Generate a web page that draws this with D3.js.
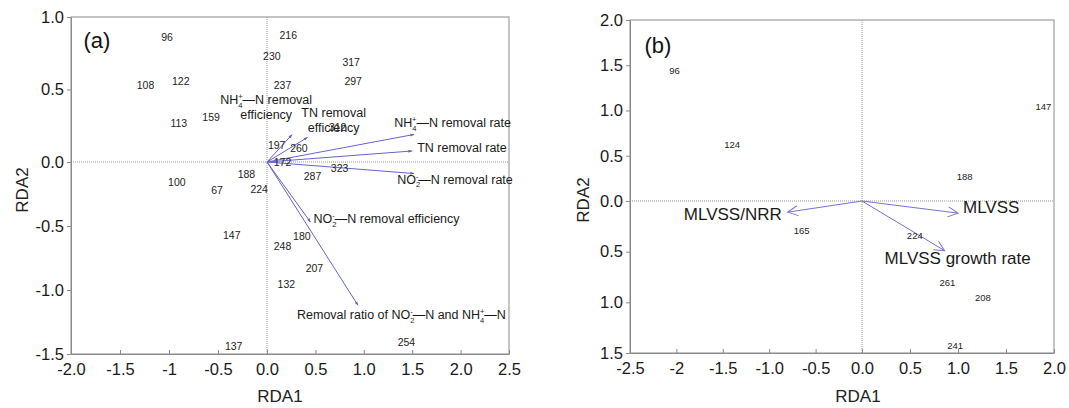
<!DOCTYPE html>
<html>
<head>
<meta charset="utf-8">
<script src="https://cdn.jsdelivr.net/npm/d3@7"></script>
<style>
  body { margin: 0; background: #fff; }
  svg { display: block; font-family: "Liberation Sans", Arial, sans-serif; }
  .axis path, .axis line { stroke: #8a8a8a; }
  .axis text { fill: #1a1a1a; font-size: 16.5px; font-family: "Liberation Sans", Arial, sans-serif; }
  .zero { stroke: #9a9a9a; stroke-dasharray: 1,1; }
  .frame { fill: none; stroke: #8a8a8a; }
  .sample { fill: #222; text-anchor: middle; dominant-baseline: central; }
</style>
</head>
<body>
<div id="chart"></div>
<script>
// ---- panel (a) ----
const xTicksA = [-2, -1.5, -1, -0.5, 0, 0.5, 1, 1.5, 2, 2.5];
const xTickLabelsA = ["-2.0", "-1.5", "-1", "-0.5", "0.0", "0.5", "1.0", "1.5", "2.0", "2.5"];
const yTicksA = [1, 0.5, 0, -0.5, -1, -1.5];
const yTickLabelsA = ["1.0", "0.5", "0.0", "-0.5", "-1.0", "-1.5"];

const sampleIdsA = ["96", "122", "108", "113", "159", "100", "67", "188", "224", "216", "230", "317", "297", "237",
  "312", "197", "260", "172", "323", "287", "147", "180", "248", "207", "132", "137", "254"];
const sampleRDA1A = [-1.02, -0.88, -1.24, -0.90, -0.57, -0.92, -0.51, -0.21, -0.08, 0.22, 0.05, 0.87, 0.89, 0.16,
  0.73, 0.10, 0.33, 0.16, 0.75, 0.47, -0.36, 0.36, 0.16, 0.49, 0.20, -0.34, 1.44];
const sampleRDA2A = [0.86, 0.56, 0.53, 0.27, 0.31, -0.16, -0.22, -0.09, -0.21, 0.875, 0.73, 0.69, 0.56, 0.53,
  0.24, 0.12, 0.10, 0.0, -0.05, -0.11, -0.57, -0.58, -0.66, -0.83, -0.95, -1.44, -1.41];

const arrowNamesA = [
  [["NH", ["sub", "4"], ["sup", "+"], "—N removal"], ["efficiency"]],
  [["TN removal"], ["efficiency"]],
  [["NH", ["sub", "4"], ["sup", "+"], "—N removal rate"]],
  [["TN removal rate"]],
  [["NO", ["sub", "2"], ["sup", "-"], "—N removal rate"]],
  [["NO", ["sub", "2"], ["sup", "-"], "—N removal efficiency"]],
  [["Removal ratio of NO", ["sub", "2"], ["sup", "-"], "—N and NH", ["sub", "4"], ["sup", "+"], "—N"]]
];
const arrowRDA1A = [0.26, 0.42, 1.52, 1.50, 1.52, 0.45, 0.94];
const arrowRDA2A = [0.19, 0.17, 0.19, 0.076, -0.09, -0.47, -1.12];

// ---- panel (b) ----
const xTicksB = [-2.5, -2, -1.5, -1, -0.5, 0, 0.5, 1, 1.5, 2];
const xTickLabelsB = ["-2.5", "-2", "-1.5", "-1.0", "-0.5", "0.0", "0.5", "1.0", "1.5", "2.0"];
const yTicksB = [2, 1.5, 1, 0.5, 0, -0.5, -1, -1.5];
const yTickLabelsB = ["2.0", "1.5", "1.0", "0.5", "0.0", "0.5", "1.0", "1.5"];

const sampleIdsB = ["96", "124", "147", "188", "165", "224", "261", "208", "241"];
const sampleRDA1B = [-2.02, -1.40, 1.89, 1.07, -0.65, 0.55, 0.89, 1.26, 0.97];
const sampleRDA2B = [1.44, 0.62, 1.04, 0.27, -0.29, -0.34, -0.80, -0.95, -1.43];

const arrowNamesB = [[["MLVSS/NRR"]], [["MLVSS"]], [["MLVSS growth rate"]]];
const arrowRDA1B = [-0.80, 1.00, 0.86];
const arrowRDA2B = [-0.11, -0.12, -0.49];

const width = 1069, height = 408;

const svg = d3.select("#chart").append("svg")
  .attr("width", width)
  .attr("height", height);

svg.append("rect").attr("width", width).attr("height", height).attr("fill", "#fff");

const defs = svg.append("defs");
defs.append("marker")
  .attr("id", "headA")
  .attr("viewBox", "-6 -4 8 8")
  .attr("refX", 0).attr("refY", 0)
  .attr("markerWidth", 6).attr("markerHeight", 6)
  .attr("markerUnits", "userSpaceOnUse")
  .attr("orient", "auto")
  .append("path")
  .attr("d", "M-5,-2L0,0L-5,2Z")
  .attr("fill", "#5f5fc8");
defs.append("marker")
  .attr("id", "headB")
  .attr("viewBox", "-12 -7 14 14")
  .attr("refX", 0).attr("refY", 0)
  .attr("markerWidth", 14).attr("markerHeight", 14)
  .attr("markerUnits", "userSpaceOnUse")
  .attr("orient", "auto")
  .append("path")
  .attr("d", "M-10,-5L0,0L-10,5")
  .attr("fill", "none")
  .attr("stroke", "#7272d8")
  .attr("stroke-width", 1);

// writes a label with sub/superscripts into a <text>
function richText(sel, parts, fs) {
  let shift = 0, prev = "n";
  parts.forEach(p => {
    const kind = typeof p === "string" ? "n" : p[0];
    const txt = typeof p === "string" ? p : p[1];
    const target = kind === "sub" ? fs * 0.3 : kind === "sup" ? -fs * 0.4 : 0;
    const t = sel.append("tspan").attr("dy", target - shift).text(txt);
    if (kind !== "n") t.attr("font-size", fs * 0.6);
    if (kind === "sup" && prev === "sub") t.attr("dx", -fs * 0.34);
    shift = target;
    prev = kind;
  });
}

function drawPanel(p) {
  const x = d3.scaleLinear().domain(p.xDomain).range(p.xRange);
  const y = d3.scaleLinear().domain(p.yDomain).range(p.yRange);
  const [x0, x1] = [p.xRange[0], p.xRange[p.xRange.length - 1]];
  const [y0, y1] = [p.yRange[0], p.yRange[p.yRange.length - 1]];

  const g = svg.append("g");

  // zero lines
  g.append("line").attr("class", "zero")
    .attr("x1", x0).attr("x2", x1).attr("y1", y(0)).attr("y2", y(0));
  g.append("line").attr("class", "zero")
    .attr("x1", x(0)).attr("x2", x(0)).attr("y1", y0).attr("y2", y1);

  g.append("rect").attr("class", "frame")
    .attr("x", x0).attr("y", y1).attr("width", x1 - x0).attr("height", y0 - y1);

  g.append("g")
    .attr("class", "axis")
    .attr("transform", "translate(0," + y0 + ")")
    .call(d3.axisBottom(x).tickValues(p.xTicks).tickFormat((d, i) => p.xLabels[i])
      .tickSizeInner(-4).tickSizeOuter(0).tickPadding(9));

  g.append("g")
    .attr("class", "axis")
    .attr("transform", "translate(" + x0 + ",0)")
    .call(d3.axisLeft(y).tickValues(p.yTicks).tickFormat((d, i) => p.yLabels[i])
      .tickSizeInner(4).tickSizeOuter(0).tickPadding(3));

  // arrows
  g.selectAll(".env")
    .data(p.arrowX)
    .enter().append("line")
    .attr("x1", x(0)).attr("y1", y(0))
    .attr("x2", d => x(d)).attr("y2", (d, i) => y(p.arrowY[i]))
    .attr("stroke", p.arrowColor)
    .attr("stroke-width", 1)
    .attr("marker-end", "url(#" + p.marker + ")");

  p.arrowNames.forEach((lines, i) => {
    const off = p.labelOffsets[i];
    const tx = x(p.arrowX[i]) + off[0];
    const ty = y(p.arrowY[i]) + off[1];
    lines.forEach((parts, j) => {
      const t = g.append("text")
        .attr("x", tx).attr("y", ty + j * p.lineGap)
        .attr("dy", "0.35em")
        .attr("text-anchor", off[2])
        .attr("font-size", p.labelSize)
        .attr("fill", "#1a1a1a");
      richText(t, parts, p.labelSize);
    });
  });

  // sample ids
  g.selectAll(".sample")
    .data(p.ids)
    .enter().append("text")
    .attr("class", "sample")
    .attr("font-size", p.sampleSize)
    .attr("x", (d, i) => x(p.sx[i]))
    .attr("y", (d, i) => y(p.sy[i]))
    .text(d => d);

  svg.append("text")
    .attr("x", p.tag[1]).attr("y", p.tag[2])
    .attr("dy", "0.35em")
    .attr("text-anchor", "middle")
    .attr("font-size", 22)
    .attr("fill", "#111")
    .text(p.tag[0]);

  svg.append("text")
    .attr("x", p.xTitle[0]).attr("y", p.xTitle[1])
    .attr("dy", "0.35em")
    .attr("text-anchor", "middle")
    .attr("font-size", 17)
    .attr("fill", "#222")
    .text("RDA1");

  svg.append("text")
    .attr("transform", "translate(" + p.yTitle[0] + "," + p.yTitle[1] + ") rotate(-90)")
    .attr("dy", "0.35em")
    .attr("text-anchor", "middle")
    .attr("font-size", 17)
    .attr("fill", "#222")
    .text("RDA2");
}

drawPanel({
  xDomain: [-2, 0, 2.5], xRange: [71, 267, 509],
  yDomain: [-1.5, 0, 1], yRange: [354, 162, 17],
  xTicks: xTicksA, xLabels: xTickLabelsA, yTicks: yTicksA, yLabels: yTickLabelsA,
  ids: sampleIdsA, sx: sampleRDA1A, sy: sampleRDA2A, sampleSize: 10.5,
  arrowX: arrowRDA1A, arrowY: arrowRDA2A, arrowNames: arrowNamesA,
  arrowColor: "#6464cc", marker: "headA", labelSize: 12.5, lineGap: 15,
  labelOffsets: [[-26, -30, "middle"], [26, -20, "middle"], [-20, -7, "start"], [5, 1, "start"],
    [-17, 10, "start"], [3, 1, "start"], [-61, 14, "start"]],
  tag: ["(a)", 97, 40], xTitle: [280, 396], yTitle: [22, 190]
});

drawPanel({
  xDomain: [-2.5, 0, 2], xRange: [630, 862, 1054],
  yDomain: [-1.5, 0, 2], yRange: [353, 201, 20],
  xTicks: xTicksB, xLabels: xTickLabelsB, yTicks: yTicksB, yLabels: yTickLabelsB,
  ids: sampleIdsB, sx: sampleRDA1B, sy: sampleRDA2B, sampleSize: 9.5,
  arrowX: arrowRDA1B, arrowY: arrowRDA2B, arrowNames: arrowNamesB,
  arrowColor: "#7272d8", marker: "headB", labelSize: 17, lineGap: 18,
  labelOffsets: [[-6, 8, "end"], [5, 0, "start"], [-60, 13, "start"]],
  tag: ["(b)", 658, 45], xTitle: [858, 396], yTitle: [583, 200]
});
</script>
</body>
</html>
